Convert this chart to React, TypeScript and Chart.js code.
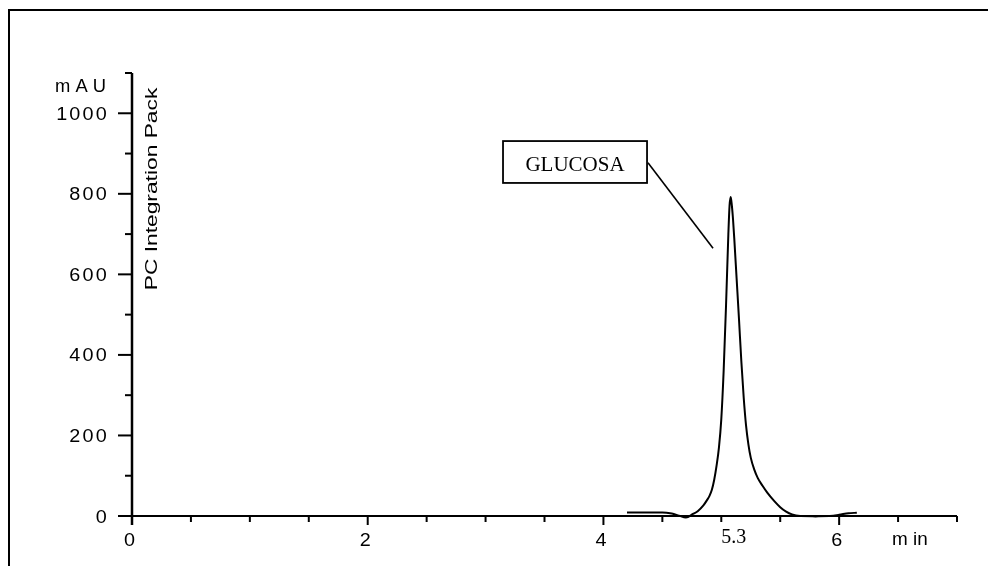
import React, { useEffect, useRef } from "react";
import { Chart, registerables } from "chart.js";

Chart.register(...registerables);

// ---- data ----
const timeMin = [4.2, 4.5, 4.58, 4.64, 4.7, 4.76, 4.8, 4.85, 4.88, 4.9, 4.92, 4.94, 4.96, 4.98, 5.0, 5.02, 5.04, 5.06, 5.07, 5.08, 5.09, 5.1, 5.11, 5.13, 5.15, 5.17, 5.19, 5.21, 5.23, 5.25, 5.28, 5.31, 5.35, 5.39, 5.45, 5.5, 5.55, 5.6, 5.67, 5.8, 5.92, 6.0, 6.08, 6.15];
const absorbanceMAU = [9, 9, 6, 1, -4, 5, 12, 27, 40, 50, 65, 90, 125, 170, 240, 360, 520, 700, 770, 792, 770, 735, 690, 590, 490, 385, 295, 225, 178, 145, 115, 94, 75, 58, 37, 22, 11, 4, 0, -1, 0, 3, 7, 8];

const xMajorTicks = [0, 2, 4, 6];
const xMinorTicks = [0.5, 1, 1.5, 2.5, 3, 3.5, 4.5, 5, 5.5, 6.5, 7];
const yMajorTicks = [0, 200, 400, 600, 800, 1000];
const yMinorTicks = [100, 300, 500, 700, 900, 1100];

const xUnitLabel = "m in";
const yUnitLabel = "m A U";
const sideLabel = "PC Integration Pack";
const peakName = "GLUCOSA";
const peakTimeLabel = "5.3";
const peakTime = 5.08;

const X_MIN = 0;
const X_MAX = 7;
const Y_MIN = 0;
const Y_MAX = 1100;

const SANS = '"Liberation Sans", Arial, sans-serif';
const SERIF = '"Liberation Serif", "Times New Roman", serif';

function drawText(
  ctx: CanvasRenderingContext2D,
  text: string,
  x: number,
  y: number,
  o: { font: string; align?: CanvasTextAlign; stretch?: number; spacing?: number; rotate?: number }
) {
  ctx.save();
  ctx.translate(x, y);
  if (o.rotate) ctx.rotate(o.rotate);
  ctx.scale(o.stretch ?? 1, 1);
  ctx.font = o.font;
  ctx.textAlign = o.align ?? "left";
  ctx.textBaseline = "alphabetic";
  (ctx as any).letterSpacing = (o.spacing ?? 0) + "px";
  ctx.fillStyle = "#000";
  ctx.fillText(text, 0, 0);
  ctx.restore();
}

const decorPlugin = {
  id: "decor",
  afterDatasetsDraw(chart: any) {
    const ctx: CanvasRenderingContext2D = chart.ctx;
    const xs = chart.scales.x;
    const ys = chart.scales.y;
    const X = (v: number) => xs.getPixelForValue(v);
    const Y = (v: number) => ys.getPixelForValue(v);
    const x0 = X(X_MIN);
    const y0 = Y(Y_MIN);

    ctx.save();
    ctx.strokeStyle = "#000";
    ctx.lineCap = "butt";

    // outer frame (top & left)
    ctx.lineWidth = 2;
    ctx.beginPath();
    ctx.moveTo(9, chart.height);
    ctx.lineTo(9, 10);
    ctx.lineTo(chart.width, 10);
    ctx.stroke();

    // y axis line
    ctx.lineWidth = 2.5;
    ctx.beginPath();
    ctx.moveTo(x0, Y(Y_MAX));
    ctx.lineTo(x0, y0 + 9);
    ctx.stroke();

    // x axis line
    ctx.lineWidth = 2;
    ctx.beginPath();
    ctx.moveTo(x0, y0);
    ctx.lineTo(X(X_MAX), y0);
    ctx.stroke();

    // y ticks
    ctx.lineWidth = 2;
    yMajorTicks.forEach((v) => {
      const py = Y(v);
      ctx.beginPath();
      ctx.moveTo(x0 - 14, py);
      ctx.lineTo(x0, py);
      ctx.stroke();
      drawText(ctx, String(v), x0 - 25 + 2, py + 6.5, { font: `18px ${SANS}`, align: "right", stretch: 1.1, spacing: 2 });
    });
    yMinorTicks.forEach((v) => {
      const py = Y(v);
      ctx.beginPath();
      ctx.moveTo(x0 - 7, py);
      ctx.lineTo(x0, py);
      ctx.stroke();
    });

    // x ticks
    xMajorTicks.forEach((v) => {
      const px = X(v);
      ctx.beginPath();
      ctx.moveTo(px, y0);
      ctx.lineTo(px, y0 + 9);
      ctx.stroke();
      drawText(ctx, String(v), px - 2.5, y0 + 30, { font: `18px ${SANS}`, align: "center", stretch: 1.1 });
    });
    xMinorTicks.forEach((v) => {
      const px = X(v);
      ctx.beginPath();
      ctx.moveTo(px, y0);
      ctx.lineTo(px, y0 + 6);
      ctx.stroke();
    });

    // unit labels
    drawText(ctx, yUnitLabel, 55, 92, { font: `18px ${SANS}`, align: "left", stretch: 1.02 });
    drawText(ctx, xUnitLabel, 892, y0 + 29, { font: `18px ${SANS}`, align: "left", stretch: 1.05 });

    // rotated side label
    drawText(ctx, sideLabel, x0 + 25, 189, { font: `17px ${SANS}`, align: "center", stretch: 1.34, rotate: -Math.PI / 2 });

    // retention time label
    drawText(ctx, peakTimeLabel, X(peakTime) + 3, y0 + 27, { font: `20px ${SERIF}`, align: "center" });

    // annotation box
    const bx1 = X(3.148), bx2 = X(4.37);
    const by1 = Y(931), by2 = Y(827);
    ctx.lineWidth = 1.8;
    ctx.strokeRect(bx1, by1, bx2 - bx1, by2 - by1);
    drawText(ctx, peakName, (bx1 + bx2) / 2, Y(857), { font: `20px ${SERIF}`, align: "center", stretch: 1.05 });

    // leader line
    ctx.lineWidth = 1.6;
    ctx.beginPath();
    ctx.moveTo(X(4.378), Y(877));
    ctx.lineTo(X(4.93), Y(665));
    ctx.stroke();

    ctx.restore();
  },
};

export default function App() {
  const ref = useRef<HTMLCanvasElement>(null);
  useEffect(() => {
    const chart = new Chart(ref.current as HTMLCanvasElement, {
      type: "line",
      data: {
        datasets: [
          {
            data: timeMin.map((t, i) => ({ x: t, y: absorbanceMAU[i] })),
            borderColor: "#000",
            borderWidth: 2,
            pointRadius: 0,
            fill: false,
            cubicInterpolationMode: "monotone",
            clip: false as any,
          },
        ],
      },
      options: {
        responsive: false,
        animation: false,
        devicePixelRatio: 1,
        layout: { padding: { left: 132, right: 31, top: 73, bottom: 50 } },
        scales: {
          x: { type: "linear", min: X_MIN, max: X_MAX, display: false },
          y: { type: "linear", min: Y_MIN, max: Y_MAX, display: false },
        },
        plugins: { legend: { display: false }, tooltip: { enabled: false } },
        events: [],
      },
      plugins: [decorPlugin],
    } as any);
    return () => chart.destroy();
  }, []);
  return (
    <canvas
      ref={ref}
      width={988}
      height={566}
      style={{ position: "absolute", left: 0, top: 0, width: 988, height: 566, display: "block", background: "#fff" }}
    />
  );
}
